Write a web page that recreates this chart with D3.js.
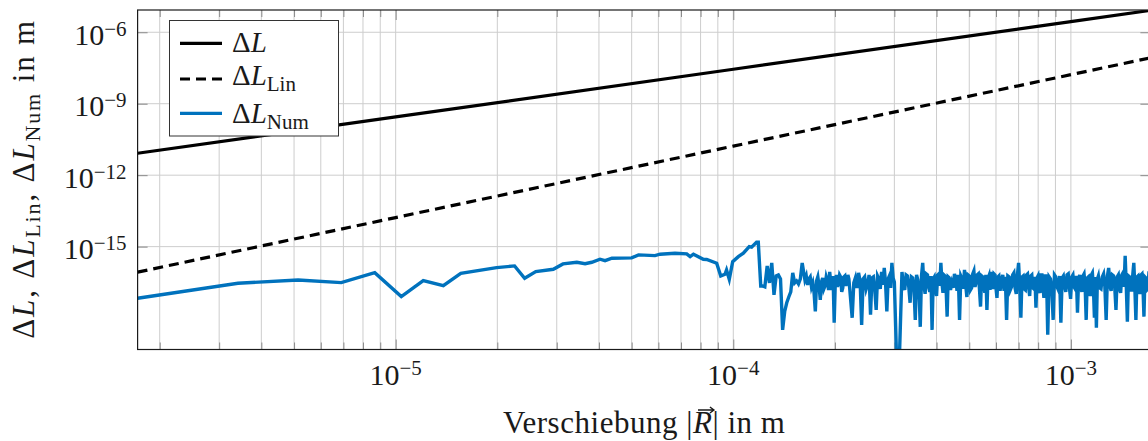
<!DOCTYPE html>
<html>
<head>
<meta charset="utf-8">
<script src="https://cdn.jsdelivr.net/npm/d3@7"></script>
<style>
  body { margin: 0; background: #fff; }
  svg { display: block; font-family: 'Liberation Serif', 'Times New Roman', serif; fill: #1a1a1a; }
</style>
</head>
<body>
<div id="chart"></div>
<script>
// Verschiebung |R| in m and the two analytic curves (read at the decade lines)
const rLine = [1.72e-6, 1e-5, 1e-4, 1e-3, 1.72e-3];
const dL = [8.3e-12, 2.79e-10, 2.79e-8, 2.79e-6, 8.26e-6];
const dLLin = [8.5e-17, 1.66e-14, 1.66e-11, 1.66e-8, 8.45e-8];

// numerical result
const numR = [
  1.72e-6, 3.41e-6, 5.14e-6, 6.90e-6, 8.67e-6, 1.039e-5, 1.207e-5, 1.384e-5, 1.559e-5, 1.99e-5,
  2.25e-5, 2.41e-5, 2.60e-5, 2.93e-5, 3.13e-5, 3.44e-5, 3.64e-5, 3.81e-5, 4.03e-5, 4.17e-5,
  4.37e-5, 5.00e-5, 5.24e-5, 5.86e-5, 6.07e-5, 6.72e-5, 7.28e-5, 7.45e-5, 7.62e-5, 8.15e-5,
  8.34e-5, 8.93e-5, 9.18e-5, 9.45e-5, 9.55e-5, 9.73e-5, 9.96e-5, 1.035e-4, 1.071e-4, 1.115e-4,
  1.133e-4, 1.172e-4, 1.186e-4, 1.206e-4,
  1.22e-4, 1.24e-4, 1.26e-4, 1.28e-4, 1.30e-4, 1.32e-4, 1.34e-4, 1.36e-4, 1.38e-4, 1.40e-4,
  1.42e-4, 1.44e-4, 1.46e-4, 1.48e-4, 1.50e-4, 1.52e-4, 1.54e-4, 1.56e-4, 1.58e-4, 1.60e-4,
  1.63e-4, 1.645e-4, 1.66e-4, 1.675e-4, 1.69e-4, 1.705e-4, 1.72e-4, 1.735e-4, 1.75e-4, 1.765e-4,
  1.78e-4, 1.795e-4, 1.81e-4, 1.825e-4, 1.84e-4, 1.855e-4, 1.87e-4, 1.885e-4, 1.90e-4, 1.915e-4,
  1.93e-4, 1.945e-4, 1.96e-4, 1.975e-4, 1.99e-4, 2.005e-4, 2.02e-4, 2.035e-4, 2.05e-4, 2.065e-4,
  2.08e-4, 2.095e-4, 2.11e-4, 2.125e-4, 2.14e-4, 2.155e-4, 2.17e-4, 2.185e-4, 2.20e-4,
  2.25e-4, 2.275e-4, 2.30e-4, 2.325e-4, 2.35e-4, 2.375e-4, 2.40e-4, 2.425e-4, 2.45e-4, 2.475e-4,
  2.50e-4, 2.525e-4, 2.55e-4, 2.575e-4, 2.60e-4, 2.625e-4, 2.65e-4, 2.675e-4, 2.70e-4, 2.725e-4,
  2.75e-4, 2.775e-4, 2.80e-4, 2.825e-4, 2.85e-4, 2.875e-4, 2.90e-4, 2.925e-4, 2.95e-4, 2.975e-4,
  3.00e-4, 3.05e-4, 3.10e-4,
  3.16e-4, 3.19e-4, 3.22e-4, 3.25e-4, 3.28e-4, 3.31e-4, 3.34e-4, 3.37e-4, 3.40e-4, 3.43e-4,
  3.46e-4, 3.49e-4, 3.52e-4, 3.55e-4, 3.58e-4, 3.61e-4, 3.64e-4, 3.67e-4, 3.70e-4, 3.73e-4,
  3.76e-4, 3.79e-4, 3.82e-4, 3.85e-4, 3.88e-4, 3.91e-4, 3.94e-4, 3.97e-4, 4.00e-4, 4.03e-4,
  4.06e-4, 4.09e-4, 4.12e-4, 4.15e-4, 4.18e-4, 4.21e-4, 4.24e-4, 4.27e-4, 4.30e-4, 4.33e-4,
  4.36e-4, 4.40e-4,
  4.44e-4, 4.48e-4, 4.52e-4, 4.56e-4, 4.60e-4, 4.64e-4, 4.68e-4, 4.72e-4, 4.76e-4, 4.80e-4,
  4.84e-4, 4.88e-4, 4.92e-4, 4.96e-4, 5.00e-4, 5.04e-4, 5.08e-4, 5.12e-4, 5.16e-4, 5.20e-4,
  5.24e-4, 5.28e-4, 5.32e-4, 5.36e-4, 5.40e-4, 5.44e-4, 5.48e-4, 5.52e-4, 5.56e-4, 5.60e-4,
  5.64e-4, 5.68e-4, 5.72e-4, 5.76e-4, 5.80e-4, 5.84e-4, 5.88e-4, 5.92e-4, 5.96e-4, 6.00e-4,
  6.04e-4, 6.08e-4, 6.12e-4, 6.17e-4,
  6.23e-4, 6.285e-4, 6.34e-4, 6.395e-4, 6.45e-4, 6.505e-4, 6.56e-4, 6.615e-4, 6.67e-4, 6.725e-4,
  6.78e-4, 6.835e-4, 6.89e-4, 6.945e-4, 7.00e-4, 7.055e-4, 7.11e-4, 7.165e-4, 7.22e-4, 7.275e-4,
  7.33e-4, 7.385e-4, 7.44e-4, 7.495e-4, 7.55e-4, 7.605e-4, 7.66e-4, 7.715e-4, 7.77e-4, 7.825e-4,
  7.88e-4, 7.935e-4, 7.99e-4, 8.045e-4, 8.10e-4, 8.155e-4, 8.21e-4, 8.265e-4, 8.32e-4, 8.375e-4,
  8.43e-4, 8.485e-4, 8.54e-4, 8.62e-4,
  8.70e-4, 8.78e-4, 8.86e-4, 8.94e-4, 9.02e-4, 9.10e-4, 9.18e-4, 9.26e-4, 9.34e-4, 9.42e-4,
  9.50e-4, 9.58e-4, 9.66e-4, 9.74e-4, 9.82e-4, 9.90e-4, 9.98e-4, 1.006e-3, 1.014e-3, 1.022e-3,
  1.030e-3, 1.038e-3, 1.046e-3, 1.054e-3, 1.062e-3, 1.070e-3, 1.078e-3, 1.086e-3, 1.094e-3, 1.102e-3,
  1.110e-3, 1.118e-3, 1.126e-3, 1.134e-3, 1.142e-3, 1.150e-3, 1.158e-3, 1.166e-3, 1.174e-3, 1.182e-3,
  1.190e-3, 1.198e-3, 1.206e-3, 1.217e-3,
  1.228e-3, 1.239e-3, 1.250e-3, 1.261e-3, 1.272e-3, 1.283e-3, 1.294e-3, 1.305e-3, 1.316e-3, 1.327e-3,
  1.338e-3, 1.349e-3, 1.360e-3, 1.371e-3, 1.382e-3, 1.393e-3, 1.404e-3, 1.415e-3, 1.426e-3, 1.437e-3,
  1.448e-3, 1.459e-3, 1.470e-3, 1.481e-3, 1.492e-3, 1.503e-3, 1.514e-3, 1.525e-3, 1.536e-3, 1.547e-3,
  1.558e-3, 1.569e-3, 1.580e-3, 1.591e-3, 1.602e-3, 1.613e-3, 1.624e-3, 1.635e-3, 1.646e-3, 1.657e-3,
  1.668e-3, 1.679e-3, 1.690e-3, 1.701e-3, 1.712e-3
];
const numDL = [
  6.82e-18, 2.90e-17, 4.0e-17, 3.08e-17, 8.09e-17, 7.96e-18, 3.74e-17, 2.31e-17, 7.63e-17, 1.31e-16,
  1.55e-16, 4.71e-17, 8.91e-17, 1.12e-16, 1.88e-16, 2.21e-16, 1.93e-16, 2.21e-16, 2.96e-16, 2.58e-16,
  3.26e-16, 3.36e-16, 4.49e-16, 4.19e-16, 4.80e-16, 5.28e-16, 4.94e-16, 3.80e-16, 4.80e-16, 2.96e-16,
  2.90e-16, 2.01e-16, 5.89e-17, 6.94e-17, 1.05e-16, 4.28e-17, 2.34e-16, 3.80e-16, 5.28e-16, 1.0e-15,
  9.44e-16, 1.53e-15, 1.53e-15, 2.24e-17,
  2.24e-17, 2.04e-17, 1.55e-16, 3.0e-17, 2.07e-16, 9.4e-18, 5.89e-17, 6.49e-17, 4.41e-17, 3.2e-19,
  1.9e-18, 4.4e-18, 7.7e-18, 1.26e-17, 7.87e-17, 3.0e-17, 3.64e-17, 2.72e-17, 4.41e-17, 2.07e-16,
  4.0e-17, 5.89e-17, 2.47e-17, 4.41e-17, 5.35e-17, 2.04e-17, 3.0e-17, 1.15e-17, 1.9e-18, 3.64e-17,
  5.35e-17, 2.24e-17, 5.8e-18, 3.3e-17, 4.86e-17, 1.68e-17, 2.24e-17, 5.35e-17, 3.64e-17, 1.52e-17,
  8.67e-17, 3.0e-17, 1.52e-17, 5.89e-17, 6.4e-19, 3.0e-17, 6.49e-17, 2.04e-17, 3.0e-17, 6.49e-17,
  5.35e-17, 1.26e-17, 1.85e-17, 5.35e-17, 5.89e-17, 2.24e-17, 3.3e-17, 6.49e-17, 4.41e-17,
  1.03e-18, 3.0e-17, 4.86e-17, 1.85e-17, 7.87e-17, 3.64e-17, 5.2e-19, 4.41e-17, 5.35e-17, 1.68e-17,
  2.72e-17, 6.49e-17, 1.4e-18, 4.86e-17, 5.35e-17, 1.52e-17, 2.2e-18, 5.89e-17, 4.41e-17, 1.68e-17,
  8.67e-17, 2.47e-17, 1.28e-16, 3.0e-17, 1.9e-18, 4.41e-17, 5.89e-17, 1.85e-17, 2.07e-16, 4.86e-17,
  3.3e-17, 1e-20, 1e-20,
  8.67e-17, 2.47e-17, 1.52e-17, 6.49e-17, 5.89e-17, 2.04e-17, 4.4e-18, 5.35e-17, 4.86e-17, 1.68e-17,
  8.4e-19, 6.49e-17, 4.0e-17, 1.39e-17, 4.3e-19, 5.89e-17, 2.07e-16, 2.24e-17, 1.04e-17, 7.15e-17,
  6.49e-17, 2.04e-17, 1.26e-17, 5.89e-17, 3.2e-19, 4.41e-17, 5.35e-17, 1.85e-17, 8.5e-18, 6.49e-17,
  7.15e-17, 2.24e-17, 2.07e-16, 3.0e-17, 1.15e-17, 6.49e-17, 5.89e-17, 1.68e-17, 1.15e-18, 5.35e-17,
  4.86e-17, 1.52e-17,
  3.0e-17, 1.85e-17, 7.15e-17, 4.41e-17, 1.39e-17, 6.49e-17, 8.4e-19, 5.89e-17, 4.41e-17, 1.68e-17,
  1.05e-16, 2.47e-17, 7.7e-18, 6.49e-17, 5.89e-17, 1.52e-17, 1.85e-17, 7.15e-17, 9.55e-17, 2.04e-17,
  3.3e-17, 6.49e-17, 7.15e-17, 1.68e-17, 3.0e-18, 5.89e-17, 5.35e-17, 2.24e-17, 1.15e-17, 6.49e-17,
  2.2e-18, 4.41e-17, 5.89e-17, 1.52e-17, 8.67e-17, 3.0e-17, 1.68e-17, 7.15e-17, 6.49e-17, 1.85e-17,
  7.0e-18, 5.35e-17, 5.89e-17, 1.39e-17,
  4.0e-17, 6.49e-17, 1.39e-17, 5.35e-17, 8.4e-19, 5.89e-17, 5.35e-17, 1.52e-17, 2.04e-17, 6.49e-17,
  7.87e-17, 1.85e-17, 1.04e-17, 6.49e-17, 2.07e-16, 2.24e-17, 1.03e-18, 5.35e-17, 5.89e-17, 1.68e-17,
  1.52e-17, 6.49e-17, 7.15e-17, 2.04e-17, 8.5e-18, 5.89e-17, 6.49e-17, 1.85e-17, 1.68e-17, 5.35e-17,
  2.7e-18, 4.86e-17, 5.89e-17, 1.52e-17, 1.15e-17, 6.49e-17, 6.49e-17, 2.24e-17, 7.0e-18, 5.89e-17,
  5.89e-17, 1.68e-17, 2.0e-19, 5.35e-17,
  4.41e-17, 1.68e-17, 8.4e-19, 6.49e-17, 5.35e-17, 2.04e-17, 1.52e-17, 5.89e-17, 6.4e-19, 4.86e-17,
  5.89e-17, 2.24e-17, 1.26e-17, 6.49e-17, 7.15e-17, 1.85e-17, 6.4e-18, 5.35e-17, 6.49e-17, 2.04e-17,
  1.68e-17, 5.89e-17, 1.7e-18, 4.41e-17, 6.49e-17, 1.85e-17, 1.26e-17, 5.89e-17, 7.15e-17, 2.24e-17,
  8.4e-19, 4.86e-17, 5.35e-17, 1.52e-17, 8.5e-18, 6.49e-17, 7.87e-17, 2.04e-17, 1.03e-18, 5.35e-17,
  3.9e-19, 4.41e-17, 5.89e-17, 1.85e-17,
  1.68e-17, 5.35e-17, 7.15e-17, 2.04e-17, 8.4e-19, 5.89e-17, 1.28e-16, 2.24e-17, 1.39e-17, 6.49e-17,
  5.89e-17, 1.85e-17, 2.2e-18, 5.35e-17, 6.49e-17, 1.68e-17, 1.15e-17, 6.49e-17, 7.87e-17, 2.04e-17,
  4.07e-16, 2.24e-17, 7.0e-19, 5.89e-17, 5.35e-17, 1.52e-17, 1.52e-17, 6.49e-17, 2.07e-16, 1.85e-17,
  8.4e-19, 5.35e-17, 5.89e-17, 1.68e-17, 1.04e-17, 6.49e-17, 7.15e-17, 2.04e-17, 1.15e-18, 5.35e-17,
  4.86e-17, 1.52e-17, 1.68e-17, 6.49e-17, 5.89e-17
];

const xMajor = [1e-5, 1e-4, 1e-3];
const yMajor = [1e-15, 1e-12, 1e-9, 1e-6];
const legendSubs = ['', 'Lin', 'Num'];
const legendColors = ['#000', '#000', '#0072bd'];
const legendDash = [null, '10,6', null];

// write a small formula into a <text> as tspans (italic, sub- and superscripts)
function mathText(sel, parts, smallSize, shift) {
  let cur = 0;
  parts.forEach(p => {
    const ts = sel.append('tspan').text(p.t);
    const target = p.sub ? shift : (p.sup ? -shift : 0);
    if (target !== cur) { ts.attr('dy', target - cur); cur = target; }
    if (p.it) ts.attr('font-style', 'italic');
    if (p.sub || p.sup) ts.attr('font-size', smallSize);
  });
}

function expParts(d) {
  const e = Math.round(Math.log10(d));
  return [{t: '10'}, {t: String(e).replace('-', '\u2212'), sup: true}];
}

class LogLogChart {

  constructor(_config) {
    this.config = {
      parentElement: _config.parentElement,
      containerWidth: 1148,
      containerHeight: 441,
      margin: {top: 10, right: -2.4, bottom: 91.5, left: 137.6},
      xDomain: [1.72e-6, 1.72e-3],
      yDomain: [4.8e-20, 8.6e-6]
    };
    this.initVis();
  }

  initVis() {
    let vis = this;
    const m = vis.config.margin;
    vis.width = vis.config.containerWidth - m.left - m.right;
    vis.height = vis.config.containerHeight - m.top - m.bottom;

    vis.svg = d3.select(vis.config.parentElement).append('svg')
        .attr('width', vis.config.containerWidth)
        .attr('height', vis.config.containerHeight);

    vis.svg.append('defs').append('clipPath').attr('id', 'plot-clip')
      .append('rect').attr('width', vis.width).attr('height', vis.height);

    vis.chart = vis.svg.append('g')
        .attr('transform', `translate(${m.left},${m.top})`);

    vis.xScale = d3.scaleLog().domain(vis.config.xDomain).range([0, vis.width]);
    vis.yScale = d3.scaleLog().domain(vis.config.yDomain).range([vis.height, 0]);

    vis.renderVis();
  }

  renderVis() {
    let vis = this;
    const xAll = vis.xScale.ticks();
    const xMinor = xAll.filter(d => !xMajor.some(v => Math.abs(v - d) / v < 1e-9));

    // grid
    vis.chart.append('g').selectAll('line')
        .data(xAll)
      .join('line')
        .attr('x1', d => vis.xScale(d)).attr('x2', d => vis.xScale(d))
        .attr('y1', 0).attr('y2', vis.height)
        .attr('stroke', '#cdcdcd').attr('stroke-width', 1);
    vis.chart.append('g').selectAll('line')
        .data(yMajor)
      .join('line')
        .attr('x1', 0).attr('x2', vis.width)
        .attr('y1', d => vis.yScale(d)).attr('y2', d => vis.yScale(d))
        .attr('stroke', '#cdcdcd').attr('stroke-width', 1);

    // inward tick marks on all four sides
    const styleAxis = g => {
      g.select('.domain').remove();
      g.selectAll('line').attr('stroke', '#8a8a8a');
      g.selectAll('text').remove();
    };
    vis.chart.append('g').attr('transform', `translate(0,${vis.height})`)
        .call(d3.axisBottom(vis.xScale).tickValues(xMinor).tickSize(-7)).call(styleAxis);
    vis.chart.append('g').attr('transform', `translate(0,${vis.height})`)
        .call(d3.axisBottom(vis.xScale).tickValues(xMajor).tickSize(-10)).call(styleAxis);
    vis.chart.append('g')
        .call(d3.axisTop(vis.xScale).tickValues(xMinor).tickSize(-7)).call(styleAxis);
    vis.chart.append('g')
        .call(d3.axisTop(vis.xScale).tickValues(xMajor).tickSize(-10)).call(styleAxis);
    vis.chart.append('g')
        .call(d3.axisLeft(vis.yScale).tickValues(yMajor).tickSize(-10)).call(styleAxis);
    vis.chart.append('g').attr('transform', `translate(${vis.width},0)`)
        .call(d3.axisRight(vis.yScale).tickValues(yMajor).tickSize(-10)).call(styleAxis);

    // data lines
    const line = d3.line()
        .x(d => vis.xScale(d[0]))
        .y(d => vis.yScale(d[1]));
    const plot = vis.chart.append('g').attr('clip-path', 'url(#plot-clip)');
    plot.append('path')
        .attr('d', line(d3.zip(numR, numDL)))
        .attr('fill', 'none').attr('stroke', '#0072bd').attr('stroke-width', 3.4)
        .attr('stroke-linejoin', 'miter').attr('stroke-miterlimit', 5);
    plot.append('path')
        .attr('d', line(d3.zip(rLine, dLLin)))
        .attr('fill', 'none').attr('stroke', '#000').attr('stroke-width', 3.2)
        .attr('stroke-dasharray', '10,6');
    plot.append('path')
        .attr('d', line(d3.zip(rLine, dL)))
        .attr('fill', 'none').attr('stroke', '#000').attr('stroke-width', 3.2);

    // frame
    vis.chart.append('rect')
        .attr('x', 0).attr('y', 0).attr('width', vis.width).attr('height', vis.height)
        .attr('fill', 'none').attr('stroke', '#1a1a1a').attr('stroke-width', 1.2);

    // tick labels
    vis.chart.selectAll('.x-tick-label')
        .data(xMajor)
      .join('text')
        .attr('class', 'x-tick-label')
        .attr('x', d => vis.xScale(d))
        .attr('y', vis.height + 35.5)
        .attr('text-anchor', 'middle')
        .attr('font-size', 30)
        .each(function(d) { mathText(d3.select(this), expParts(d), 21, 10); });

    vis.chart.selectAll('.y-tick-label')
        .data(yMajor)
      .join('text')
        .attr('class', 'y-tick-label')
        .attr('x', -11)
        .attr('y', d => vis.yScale(d) + 12.5)
        .attr('text-anchor', 'end')
        .attr('font-size', 30)
        .each(function(d) { mathText(d3.select(this), expParts(d), 21, 9); });

    // axis titles
    const xTitle = vis.chart.append('text')
        .attr('x', vis.width / 2)
        .attr('y', 423.3)
        .attr('text-anchor', 'middle')
        .attr('font-size', 31)
        .attr('textLength', 282).attr('lengthAdjust', 'spacing');
    mathText(xTitle, [{t: 'Verschiebung |'}, {t: 'R', it: true}, {t: '| in m'}], 20, 0);
    const rIdx = 'Verschiebung |'.length;
    const n = xTitle.node();
    const p0 = n.getStartPositionOfChar(rIdx), p1 = n.getEndPositionOfChar(rIdx);
    const ax0 = p0.x + 5, ax1 = p1.x + 2, ay = 400;
    vis.chart.append('path')
        .attr('d', `M${ax0},${ay}H${ax1}M${ax1 - 4},${ay - 3}L${ax1},${ay}L${ax1 - 4},${ay + 3}`)
        .attr('fill', 'none').attr('stroke', '#1a1a1a').attr('stroke-width', 1.4);

    const yTitle = vis.svg.append('text')
        .attr('transform', `translate(33.5,${vis.config.margin.top + vis.height / 2}) rotate(-90)`)
        .attr('text-anchor', 'middle')
        .attr('font-size', 31)
        .attr('textLength', 318).attr('lengthAdjust', 'spacing');
    mathText(yTitle, [
      {t: '\u0394'}, {t: 'L', it: true}, {t: ', \u0394'}, {t: 'L', it: true}, {t: 'Lin', sub: true},
      {t: ', \u0394'}, {t: 'L', it: true}, {t: 'Num', sub: true}, {t: ' in m'}
    ], 22, 6);

    // legend
    const legend = vis.svg.append('g').attr('class', 'legend');
    legend.append('rect')
        .attr('x', 169.5).attr('y', 20.5).attr('width', 169).attr('height', 115.5)
        .attr('fill', '#fff').attr('stroke', '#333').attr('stroke-width', 1);
    const lineY = [43.3, 79, 113.3];
    const textY = [51.5, 85, 123];
    legendSubs.forEach((s, i) => {
      legend.append('line')
          .attr('x1', 180).attr('x2', 222).attr('y1', lineY[i]).attr('y2', lineY[i])
          .attr('stroke', legendColors[i]).attr('stroke-width', 3.2)
          .attr('stroke-dasharray', legendDash[i]);
      const t = legend.append('text')
          .attr('x', 232).attr('y', textY[i])
          .attr('font-size', 29);
      const parts = [{t: '\u0394'}, {t: 'L', it: true}];
      if (s) parts.push({t: s, sub: true});
      mathText(t, parts, 21, 6);
    });
  }
}

new LogLogChart({parentElement: '#chart'});
</script>
</body>
</html>
